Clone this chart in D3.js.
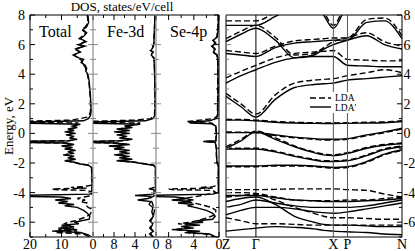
<!DOCTYPE html>
<html>
<head>
<meta charset="utf-8">
<script src="https://cdn.jsdelivr.net/npm/d3@7"></script>
<style>
  body { margin: 0; background: #fff; }
  svg { display: block; font-family: "Liberation Serif", "DejaVu Serif", serif; }
  .tick-label { font-size: 14px; fill: #000; }
</style>
</head>
<body>
<div id="chart"></div>
<script>
// DOS curves, [energy eV, states/eV/cell]. LDA is dashed, LDA' solid
const totalLDAp = [[8,1.6],[7.5,1.4],[7.2,2.0],[7.0,3.2],[6.8,2.0],[6.6,2.8],[6.4,4.0],[6.2,2.2],[6.0,4.5],[5.9,2.5],[5.7,5.5],[5.5,4.0],[5.3,6.3],[5.1,4.5],[5.0,3.0],[4.8,3.8],[4.6,2.5],[4.4,2.0],[4.2,2.3],[4.0,1.6],[3.5,1.2],[3.0,1.0],[2.5,0.8],[2.0,0.7],[1.5,0.6],[1.2,0.8],[1.0,1.5],[0.85,3],[0.75,25],[0.7,25],[0.62,4],[0.5,6.5],[0.4,5],[0.3,8],[0.2,6],[0.1,9],[0,5.5],[-0.1,8.5],[-0.2,6],[-0.3,7.5],[-0.4,5],[-0.5,8],[-0.55,25],[-0.6,25],[-0.65,9],[-0.75,6],[-0.85,10],[-0.95,6.5],[-1.05,9],[-1.15,5.5],[-1.25,8],[-1.35,6],[-1.45,9.5],[-1.55,6],[-1.65,8],[-1.75,5.5],[-1.85,9],[-1.95,6],[-2.05,4.5],[-2.15,1.5],[-2.3,0.5],[-3,0.3],[-3.5,0.3],[-4.0,0.5],[-4.1,1],[-4.2,25],[-4.25,25],[-4.3,10],[-4.4,7],[-4.5,12],[-4.6,8],[-4.7,11],[-4.8,6],[-4.9,9],[-5.0,5],[-5.2,3],[-5.4,1.8],[-5.6,1.0],[-5.8,1.2],[-6.0,6],[-6.1,4.5],[-6.2,10],[-6.3,6],[-6.4,11],[-6.5,5],[-6.6,13],[-6.7,4],[-6.85,1.5],[-7,0.5]];
const totalLDA = [[8,1.8],[7.5,1.6],[7.2,2.4],[7.0,3.6],[6.8,2.3],[6.6,3.2],[6.4,4.4],[6.2,2.5],[6.0,4.8],[5.9,2.8],[5.7,5.8],[5.5,4.2],[5.3,6.0],[5.1,4.8],[4.9,3.3],[4.7,3.5],[4.5,2.5],[4.2,2.1],[4.0,1.8],[3.5,1.3],[3.0,1.1],[2.5,0.9],[2.0,0.8],[1.5,0.8],[1.2,1.2],[1.1,2],[1.0,4],[0.9,7],[0.8,25],[0.75,25],[0.7,5],[0.5,6],[0.4,5.5],[0.3,7.5],[0.2,6.5],[0.1,8.5],[0,6],[-0.1,8],[-0.2,6.5],[-0.3,7],[-0.4,5.5],[-0.5,7.5],[-0.55,25],[-0.6,25],[-0.65,8.5],[-0.75,6.5],[-0.85,9.5],[-0.95,7],[-1.05,8.5],[-1.15,6],[-1.25,7.5],[-1.35,6.5],[-1.45,9],[-1.55,6.5],[-1.65,7.5],[-1.75,6],[-1.85,8.5],[-1.95,6],[-2.05,4],[-2.15,1.2],[-2.3,0.4],[-3,0.3],[-3.5,0.5],[-3.6,3],[-3.65,7],[-3.7,2],[-3.75,13],[-3.8,12],[-3.85,2],[-3.95,0.5],[-4.2,0.4],[-4.3,3],[-4.4,5],[-4.5,2.5],[-4.6,4],[-4.7,2],[-4.8,2.5],[-5.0,1.5],[-5.1,0.6],[-5.3,0.5],[-5.5,1],[-5.7,3],[-5.9,5.5],[-6.0,8],[-6.1,9],[-6.2,7],[-6.3,10],[-6.4,6],[-6.5,11],[-6.6,5],[-6.7,12],[-6.8,3],[-7,1]];
const feLDAp = [[8,0.2],[7,0.3],[6,0.4],[5.8,0.6],[5.6,1.0],[5.5,0.5],[5.3,0.9],[5.1,0.4],[4.5,0.3],[3,0.2],[2,0.15],[1.2,0.2],[1.0,0.6],[0.85,2],[0.75,14],[0.7,14],[0.62,3],[0.5,6],[0.4,4.5],[0.3,7.5],[0.2,5],[0.1,8],[0,5],[-0.1,7.5],[-0.2,5.5],[-0.3,7],[-0.4,4.5],[-0.5,7],[-0.55,14],[-0.6,14],[-0.65,8],[-0.75,5],[-0.85,9],[-0.95,6],[-1.05,8],[-1.15,5],[-1.25,7],[-1.35,5],[-1.45,8],[-1.55,5],[-1.65,7],[-1.75,4.5],[-1.85,7.5],[-1.95,4],[-2.05,2.5],[-2.15,0.5],[-2.3,0.1],[-4,0.1],[-4.1,0.5],[-4.2,4],[-4.25,1],[-4.4,1.5],[-4.5,3.5],[-4.6,1],[-4.8,1.3],[-5.0,0.6],[-5.3,0.8],[-5.6,0.5],[-5.9,1.2],[-6.1,0.6],[-6.4,1.0],[-6.6,0.5],[-6.8,1.2],[-7,0.5]];
const feLDA = [[8,0.2],[7,0.3],[6,0.45],[5.8,0.7],[5.6,1.1],[5.5,0.6],[5.3,1.0],[5.1,0.4],[4.5,0.3],[3,0.2],[2,0.2],[1.2,0.3],[1.0,1],[0.9,4],[0.8,14],[0.75,14],[0.7,3],[0.5,5.5],[0.4,5],[0.3,7],[0.2,5.5],[0.1,7.5],[0,5.5],[-0.1,7],[-0.2,6],[-0.3,6.5],[-0.4,5],[-0.5,6.5],[-0.55,14],[-0.6,14],[-0.65,7.5],[-0.75,5.5],[-0.85,8.5],[-0.95,6.5],[-1.05,7.5],[-1.15,5.5],[-1.25,6.5],[-1.35,5.5],[-1.45,7.5],[-1.55,5.5],[-1.65,6.5],[-1.75,5],[-1.85,7],[-1.95,4],[-2.05,2],[-2.15,0.4],[-2.3,0.1],[-3.6,0.1],[-3.7,0.8],[-3.75,1.5],[-3.8,0.4],[-4.2,0.3],[-4.4,1.2],[-4.6,0.8],[-4.8,0.6],[-5.2,0.3],[-5.6,0.5],[-5.9,1],[-6.1,0.7],[-6.4,1.2],[-6.6,0.6],[-6.8,1.1],[-7,0.5]];
const seLDAp = [[8,0.1],[7,0.15],[6.5,0.3],[6.3,0.9],[6.1,0.5],[5.9,1.1],[5.7,0.6],[5.5,0.9],[5.3,0.3],[5,0.2],[3,0.15],[1.2,0.2],[1.0,0.5],[0.85,1.5],[0.75,4.8],[0.7,4.5],[0.65,1.2],[0.5,0.5],[0,0.4],[-0.5,0.5],[-0.55,2.5],[-0.6,0.6],[-1,0.4],[-1.5,0.4],[-2,0.3],[-2.2,0.1],[-4.0,0.1],[-4.1,1],[-4.2,12],[-4.25,12],[-4.3,7],[-4.4,5],[-4.5,7.5],[-4.6,4.5],[-4.7,6.5],[-4.8,4],[-4.9,5],[-5.0,3.8],[-5.2,2],[-5.4,1],[-5.6,0.6],[-5.8,1],[-5.9,3.5],[-6.0,2.5],[-6.1,5.5],[-6.2,3],[-6.3,6],[-6.4,4],[-6.5,7.5],[-6.6,3],[-6.7,5],[-6.8,1.5],[-7,0.5]];
const seLDA = [[8,0.1],[7,0.2],[6.5,0.35],[6.3,1.0],[6.1,0.6],[5.9,1.2],[5.7,0.7],[5.5,1.0],[5.3,0.35],[5,0.2],[3,0.2],[1.2,0.25],[1.0,0.8],[0.9,3],[0.8,5],[0.75,4.5],[0.7,1.2],[0.5,0.5],[0,0.45],[-0.5,0.5],[-0.55,2.2],[-0.6,0.6],[-1,0.45],[-1.5,0.4],[-2,0.3],[-2.2,0.1],[-3.5,0.1],[-3.6,1],[-3.65,3],[-3.7,1],[-3.75,8],[-3.8,7.5],[-3.85,1],[-4.0,0.5],[-4.3,4],[-4.4,6],[-4.5,4],[-4.6,5.5],[-4.7,4],[-4.8,3],[-5.0,1.2],[-5.2,0.5],[-5.5,0.6],[-5.7,1.8],[-5.9,3.5],[-6.0,4.5],[-6.1,6.5],[-6.2,4.5],[-6.3,6],[-6.4,5],[-6.5,7],[-6.6,4],[-6.7,5.5],[-6.8,2],[-7,0.7]];

// band structure along Z-Γ-X-P-N (path fraction), energies in eV per k point
const kGrid = [0, 0.085, 0.17, 0.28, 0.39, 0.5, 0.555, 0.61, 0.69, 0.8, 0.9, 1];
const kTicks = [0, 0.17, 0.61, 0.69, 1];
const kLabels = ['Z', 'Γ', 'X', 'P', 'N'];
const bandsLDAp = [
  [7.3,7.3,7.3,7.9,8.6,9,9,9,9,9,9,9],
  [9,9,9,9,9,9,8.0,7.1,8.6,9,9,9],
  [6.2,6.7,7.1,6.3,5.1,5.3,5.7,6.0,6.3,6.6,6.0,5.7],
  [5.4,5.3,5.2,5.8,6.1,6.2,6.25,6.3,6.3,7.5,7.6,6.4],
  [3.4,3.9,4.3,4.8,5.1,5.2,5.2,5.2,4.6,4.55,4.5,4.5],
  [2.5,1.8,1.1,2.3,3.1,3.3,3.35,3.4,3.6,3.7,3.8,3.9],
  [0.9,0.9,0.85,0.75,0.7,0.68,0.67,0.67,0.68,0.7,0.72,0.8],
  [0.05,0.05,0.05,-0.1,-0.25,-0.35,-0.4,-0.4,-0.35,-0.1,0.1,0.35],
  [-1.0,-0.5,0.1,-0.4,-0.9,-1.3,-1.45,-1.5,-1.35,-1.0,-0.8,-0.7],
  [-1.05,-1.05,-1.05,-1.25,-1.55,-1.8,-1.9,-1.9,-1.85,-1.5,-1.1,-0.9],
  [-2.2,-2.2,-2.2,-2.15,-2.15,-2.2,-2.25,-2.3,-2.25,-1.9,-1.4,-1.1],
  [-4.2,-4.2,-4.2,-4.35,-4.5,-4.55,-4.6,-4.6,-4.6,-4.55,-4.5,-4.4],
  [-5.0,-4.8,-4.5,-4.7,-4.9,-5.0,-5.0,-5.0,-5.0,-4.9,-4.7,-4.5],
  [-4.6,-4.4,-4.3,-4.8,-5.6,-6.0,-6.15,-6.2,-6.2,-6.25,-6.3,-6.3],
  [-5.5,-5.2,-5.0,-5.0,-5.1,-5.3,-5.35,-5.4,-5.3,-5.1,-4.9,-4.7],
  [-6.6,-6.5,-6.4,-6.3,-6.35,-6.45,-6.55,-6.6,-6.65,-6.7,-6.8,-6.85]
];
const bandsLDA = [
  [7.6,7.6,7.6,8.2,9,9,9,9,9,9,9,9],
  [9,9,9,9,9,9,8.2,7.3,8.8,9,9,9],
  [6.4,6.9,7.3,6.5,5.3,5.4,5.8,6.2,6.45,6.8,6.2,5.9],
  [5.6,5.5,5.4,5.9,6.25,6.35,6.4,6.45,6.45,7.7,7.8,6.6],
  [3.75,4.2,4.6,5.1,5.4,5.5,5.55,5.6,5.0,4.95,4.9,4.9],
  [2.7,2.0,1.3,2.6,3.4,3.6,3.65,3.7,3.9,4.1,4.3,4.1],
  [0.95,0.95,0.9,0.8,0.75,0.72,0.7,0.7,0.72,0.75,0.78,0.85],
  [0.1,0.08,0.05,-0.15,-0.3,-0.4,-0.45,-0.45,-0.4,-0.15,0.05,0.3],
  [-0.9,-0.4,0.15,-0.3,-0.85,-1.25,-1.4,-1.45,-1.3,-0.95,-0.75,-0.65],
  [-1.0,-1.0,-1.0,-1.2,-1.5,-1.75,-1.85,-1.85,-1.8,-1.45,-1.05,-0.85],
  [-2.25,-2.25,-2.25,-2.2,-2.2,-2.25,-2.3,-2.35,-2.3,-1.95,-1.45,-1.15],
  [-3.8,-3.8,-3.8,-3.78,-3.75,-3.75,-3.75,-3.75,-3.8,-3.85,-4.1,-4.3],
  [-4.0,-4.0,-4.05,-4.3,-4.5,-4.55,-4.55,-4.55,-4.5,-4.5,-4.4,-4.3],
  [-4.3,-4.2,-4.1,-4.5,-5.0,-5.4,-5.6,-5.7,-5.7,-5.75,-5.8,-5.8],
  [-5.7,-5.9,-6.1,-6.1,-6.15,-6.2,-6.2,-6.2,-6.2,-6.2,-6.2,-6.2]
];

const dosPanels = [
  { name: 'Total', solid: totalLDAp, dashed: totalLDA, max: 20, labels: [20, 10, 0], minor: [15, 5] },
  { name: 'Fe-3d', solid: feLDAp, dashed: feLDA, max: 12, labels: [8, 4, 0], minor: [10, 6, 2] },
  { name: 'Se-4p', solid: seLDAp, dashed: seLDA, max: 10, labels: [8, 4, 0], minor: [6, 2] }
];
const energyMajor = [8, 6, 4, 2, 0, -2, -4, -6];
const energyMinor = [7, 5, 3, 1, -1, -3, -5, -7];

const width = 415;
const height = 251;
const plotTop = 15, plotBottom = 237;
const dosLeft = 30, dosWidth = 63;
const bandLeft = 226, bandRight = 402;

const svg = d3.select('#chart').append('svg')
  .attr('width', width)
  .attr('height', height);

const y = d3.scaleLinear().domain([-7, 8]).range([plotBottom, plotTop]);

const tick = (g, x1, y1, x2, y2, color) => {
  return g.append('line')
    .attr('x1', x1).attr('y1', y1).attr('x2', x2).attr('y2', y2)
    .attr('stroke', color || '#000').attr('stroke-width', 1);
};

// title + y label
svg.append('text')
  .attr('x', 122).attr('y', 11)
  .attr('text-anchor', 'middle')
  .attr('font-size', 13)
  .text('DOS, states/eV/cell');

svg.append('text')
  .attr('transform', `translate(13, ${y(0.5)}) rotate(-90)`)
  .attr('text-anchor', 'middle')
  .attr('font-size', 13)
  .text('Energy, eV');

// DOS panels
dosPanels.forEach((p, i) => {
  const x0 = dosLeft + i * dosWidth;
  const x = d3.scaleLinear().domain([p.max, 0]).range([x0, x0 + dosWidth]);
  const g = svg.append('g');

  svg.append('clipPath').attr('id', `clip-dos-${i}`)
    .append('rect').attr('x', x0).attr('y', plotTop).attr('width', dosWidth).attr('height', plotBottom - plotTop);

  const line = d3.line().x(d => x(d[1])).y(d => y(d[0]));
  const curves = g.append('g').attr('clip-path', `url(#clip-dos-${i})`);
  curves.append('path').datum(p.dashed)
    .attr('d', line).attr('fill', 'none').attr('stroke', '#000')
    .attr('stroke-width', 1.4).attr('stroke-dasharray', '6,3');
  curves.append('path').datum(p.solid)
    .attr('d', line).attr('fill', 'none').attr('stroke', '#000')
    .attr('stroke-width', 1.4);

  // frame top/bottom
  tick(g, x0, plotTop, x0 + dosWidth, plotTop);
  tick(g, x0, plotBottom, x0 + dosWidth, plotBottom);

  p.labels.forEach(v => {
    tick(g, x(v), plotBottom, x(v), plotBottom - 5);
    tick(g, x(v), plotTop, x(v), plotTop + 5);
    if (!(i > 0 && v === p.max)) {
      g.append('text').attr('class', 'tick-label')
        .attr('x', x(v)).attr('y', 249)
        .attr('text-anchor', 'middle')
        .text(v);
    }
  });
  p.minor.forEach(v => {
    tick(g, x(v), plotBottom, x(v), plotBottom - 3);
    tick(g, x(v), plotTop, x(v), plotTop + 3);
  });

  g.append('text')
    .attr('x', x0 + (i === 0 ? 9 : 14)).attr('y', 37)
    .attr('font-size', 16)
    .text(p.name);
});

// vertical borders of the DOS block
[0, 1, 2, 3].forEach(i => {
  const xv = dosLeft + i * dosWidth;
  const inner = i > 0 && i < 3;
  tick(svg, xv, plotTop, xv, plotBottom, inner ? '#777' : '#000');
  energyMajor.forEach(e => {
    if (i < 3) tick(svg, xv, y(e), xv + 5, y(e), inner ? '#888' : '#000');
    if (i > 0) tick(svg, xv - 5, y(e), xv, y(e), inner ? '#888' : '#000');
  });
  energyMinor.forEach(e => {
    if (i < 3) tick(svg, xv, y(e), xv + 3, y(e), inner ? '#888' : '#000');
    if (i > 0) tick(svg, xv - 3, y(e), xv, y(e), inner ? '#888' : '#000');
  });
});

energyMajor.forEach(e => {
  svg.append('text').attr('class', 'tick-label')
    .attr('x', 25).attr('y', y(e) + 5)
    .attr('text-anchor', 'end')
    .text(e);
  svg.append('text').attr('class', 'tick-label')
    .attr('x', 403.5).attr('y', y(e) + 5)
    .attr('font-size', 13)
    .text(e);
});

// band structure panel
const kx = d3.scaleLinear().domain([0, 1]).range([bandLeft, bandRight]);
svg.append('clipPath').attr('id', 'clip-bands')
  .append('rect').attr('x', bandLeft).attr('y', plotTop).attr('width', bandRight - bandLeft).attr('height', plotBottom - plotTop);

const bg = svg.append('g');
const bandLine = d3.line()
  .x((d, i) => kx(kGrid[i]))
  .y(d => y(d))
  .curve(d3.curveMonotoneX);

const bandsG = bg.append('g').attr('clip-path', 'url(#clip-bands)');
bandsLDA.forEach(b => {
  bandsG.append('path').datum(b)
    .attr('d', bandLine).attr('fill', 'none').attr('stroke', '#000')
    .attr('stroke-width', 1.4).attr('stroke-dasharray', '6,3');
});
bandsLDAp.forEach(b => {
  bandsG.append('path').datum(b)
    .attr('d', bandLine).attr('fill', 'none').attr('stroke', '#000')
    .attr('stroke-width', 1.4);
});

kTicks.forEach((k, i) => {
  const xv = kx(k);
  tick(bg, xv, plotTop, xv, plotBottom, (i === 2 || i === 3) ? '#555' : '#000');
  bg.append('text').attr('class', 'tick-label')
    .attr('x', xv).attr('y', 249)
    .attr('text-anchor', 'middle')
    .attr('font-size', 15)
    .text(kLabels[i]);
});
tick(bg, bandLeft, plotTop, bandRight, plotTop);
tick(bg, bandLeft, plotBottom, bandRight, plotBottom);
energyMajor.forEach(e => {
  tick(bg, bandLeft, y(e), bandLeft + 5, y(e), '#888');
  tick(bg, bandRight - 5, y(e), bandRight, y(e));
});
energyMinor.forEach(e => {
  tick(bg, bandLeft, y(e), bandLeft + 3, y(e), '#888');
  tick(bg, bandRight - 3, y(e), bandRight, y(e));
});

// legend
const legend = bg.append('g').attr('font-size', 9.5);
legend.append('rect')
  .attr('x', 307).attr('y', 92).attr('width', 50).attr('height', 21)
  .attr('fill', '#fff');
tick(legend, 310, 98, 331, 98)
  .attr('stroke-dasharray', '6,3').attr('stroke-width', 1.4);
tick(legend, 310, 107, 331, 107)
  .attr('stroke-width', 1.4);
legend.append('text').attr('x', 335).attr('y', 101).text('LDA');
legend.append('text').attr('x', 335).attr('y', 111).text("LDA'");
</script>
</body>
</html>
